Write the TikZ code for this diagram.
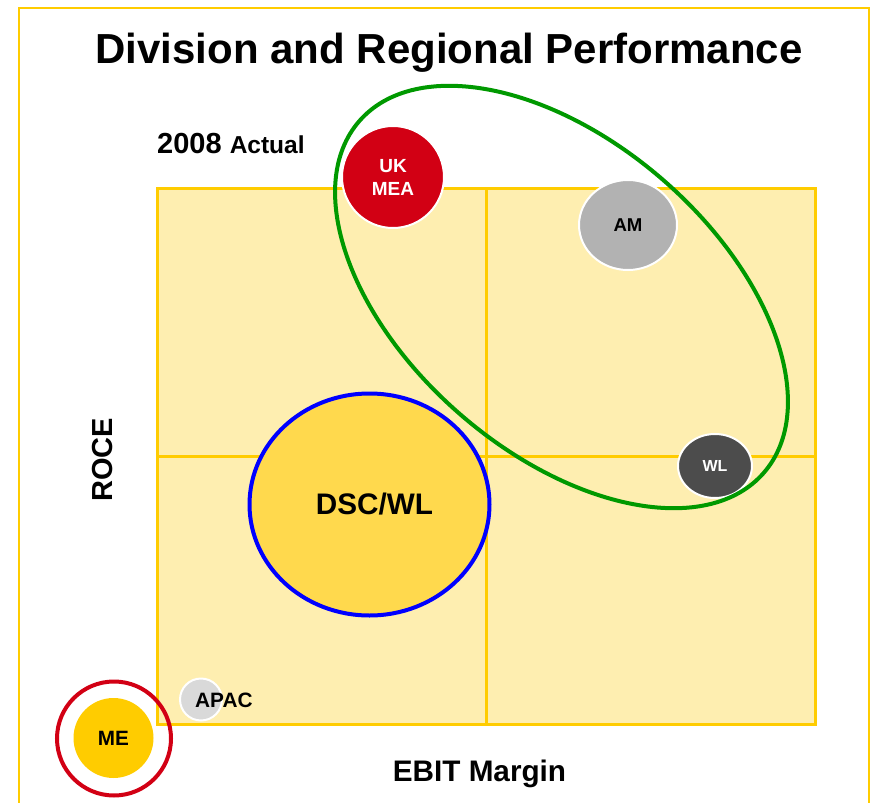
\documentclass[tikz,border=0pt]{standalone}
\usepackage{fontspec}
\setmainfont{Liberation Sans}
\usetikzlibrary{shapes}

\definecolor{gold}{HTML}{FFCC00}
\definecolor{paleyellow}{HTML}{FEEEB0}
\definecolor{ukred}{HTML}{D20014}
\definecolor{dscfill}{HTML}{FFD94D}
\definecolor{ellgreen}{HTML}{009900}

\begin{document}
\begin{tikzpicture}[x=1pt, y=-1pt,
                    blob/.style={ellipse, draw=white, line width=2pt,
                                 inner sep=0pt, font=\bfseries},
                    lbl/.style={font=\bfseries, inner sep=0pt}]

\useasboundingbox (0,0) rectangle (871,803);

% outer frame, open at the bottom
\draw[gold, line width=2pt] (19,803) -- (19,8) -- (869,8) -- (869,803);

\node[lbl, anchor=base] (title) at (449,63)
  {\fontsize{42}{50}\selectfont Division and Regional Performance};
\node[lbl, anchor=base west] (year) at (157,153)
  {\fontsize{29}{34}\selectfont 2008 \fontsize{24.5}{30}\selectfont Actual};

% quadrants
\draw[fill=paleyellow, draw=gold, line width=3pt] (157.5,188) rectangle (815.5,724);
\draw[gold, line width=3pt] (486,188) -- (486,724);
\draw[gold, line width=3pt] (157.5,456) -- (815.5,456);

\node[lbl, anchor=base] (xaxis) at (479.5,781) {\fontsize{29.7}{34}\selectfont EBIT Margin};
\node[lbl, anchor=base, rotate=90] (yaxis) at (112,460) {\fontsize{29}{34}\selectfont ROCE};

% bubbles
\node[blob, fill=ukred, text=white, minimum width=102pt, minimum height=102pt,
      align=center, font=\bfseries\fontsize{19}{23}\selectfont] (ukmea) at (393,177) {UK\\MEA};
\node[blob, fill=black!30, minimum width=98pt, minimum height=90pt,
      font=\bfseries\fontsize{18.6}{22}\selectfont] (am) at (628,225) {AM};
\node[blob, fill=black!70, text=white, minimum width=74pt, minimum height=64pt,
      font=\bfseries\fontsize{16}{20}\selectfont] (wl) at (715,466) {WL};
\node[blob, fill=dscfill, draw=blue, line width=4pt, minimum width=240pt, minimum height=222pt,
      font=\bfseries\fontsize{29.7}{34}\selectfont] (dsc) at (369.5,504.5) {\hspace{10pt}DSC/WL};
\node[blob, fill=black!15, minimum width=42pt, minimum height=42pt] (apac) at (201,699.5) {};
\node[lbl, anchor=west] (apac text) at (195,700) {\fontsize{20.8}{24}\selectfont APAC};

\node[blob, draw=none, fill=gold, minimum width=80pt, minimum height=80pt,
      font=\bfseries\fontsize{20.7}{24}\selectfont] (me) at (113.5,738) {ME};
\node[circle, draw=ukred, line width=4pt, minimum size=114pt, inner sep=0pt] (me ring) at (114,738.5) {};

% grouping ellipse
\draw[ellgreen, line width=4pt, rotate around={-41:(561.5,297)}]
  (561.5,297) ellipse [x radius=268pt, y radius=155pt];

\end{tikzpicture}
\end{document}
